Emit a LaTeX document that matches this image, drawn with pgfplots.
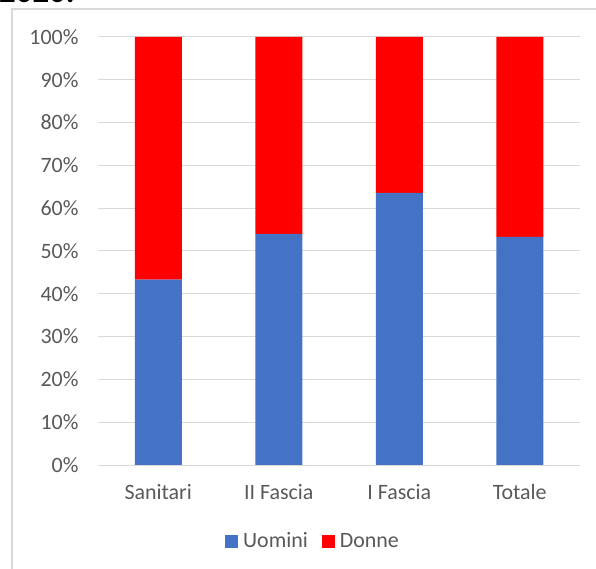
\documentclass[border=0pt]{standalone}
\usepackage{fontspec}
\setmainfont{Carlito}
\usepackage{pgfplots}
\pgfplotsset{compat=1.18}
\definecolor{uomini}{HTML}{4472C4}
\definecolor{donne}{HTML}{FF0000}
\definecolor{gridgray}{HTML}{D9D9D9}
\definecolor{textgray}{HTML}{595959}

\begin{document}
\begin{tikzpicture}
\path[use as bounding box] (0bp,0bp) rectangle (596bp,569bp);
\draw[gridgray, line width=1.2bp] (12bp,0bp) -- (12bp,560bp) -- (596bp,560bp);
\begin{scope}
  \clip (0bp,565bp) rectangle (596bp,569bp);
  \node[anchor=base west, inner sep=0pt, font=\bfseries\fontsize{33}{38}\selectfont] at (-1bp,566bp) {2020.};
\end{scope}
\begin{axis}[
  at={(98bp,104bp)}, anchor=south west,
  scale only axis,
  width=482bp, height=428bp,
  ybar stacked,
  bar width=47bp,
  xmin=-0.5, xmax=3.5,
  ymin=0, ymax=100,
  xtick={0,1,2,3},
  xticklabels={Sanitari, II Fascia, I Fascia, Totale},
  ytick={0,10,...,100},
  yticklabel={\pgfmathprintnumber{\tick}\%},
  /pgf/number format/assume math mode=true,
  ymajorgrids,
  grid style={gridgray, line width=1bp},
  axis line style={draw=none},
  major tick length=0pt,
  tick label style={font=\fontsize{22}{26}\selectfont, text=textgray},
  xticklabel style={yshift=-16bp},
  yticklabel style={xshift=-16bp},
  legend columns=2,
  legend style={at={(0.446,-0.178)}, anchor=center, draw=none,
    font=\fontsize{22}{26}\selectfont, text=textgray,
    /tikz/every odd column/.append style={column sep=3bp},
    /tikz/every even column/.append style={column sep=12bp}},
  legend image code/.code={\fill[#1] (0bp,-6.5bp) rectangle (13bp,6.5bp);},
]
\addplot[fill=uomini, draw=none] coordinates {(0,43.3) (1,54.0) (2,63.6) (3,53.3)};
\addplot[fill=donne, draw=none] coordinates {(0,56.7) (1,46.0) (2,36.4) (3,46.7)};
\legend{Uomini, Donne}
\end{axis}
\end{tikzpicture}
\end{document}
